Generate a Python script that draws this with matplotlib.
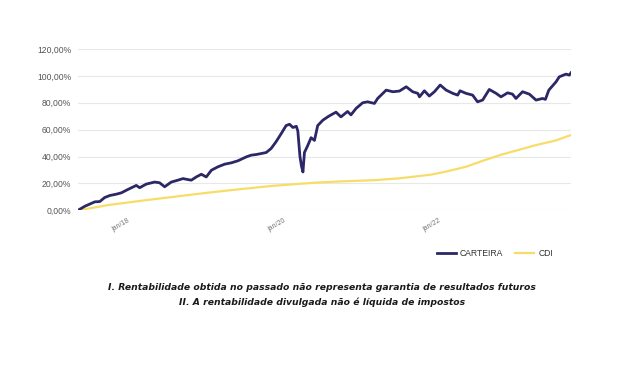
import matplotlib
matplotlib.use("Agg")
import matplotlib.pyplot as plt
import matplotlib.dates as mdates
from matplotlib.ticker import FuncFormatter
import pandas as pd

# Carteira: cumulative return (%)
carteira_dates = [
    "2017-04-29", "2017-05-31", "2017-07-17", "2017-08-09", "2017-09-01", "2017-09-25",
    "2017-10-26", "2017-11-18", "2017-12-19", "2018-01-27", "2018-02-12", "2018-03-15",
    "2018-04-23", "2018-05-16", "2018-06-09", "2018-07-10", "2018-08-10", "2018-09-03",
    "2018-09-18", "2018-10-12", "2018-11-04", "2018-11-28", "2018-12-21", "2019-01-14",
    "2019-02-13", "2019-03-17", "2019-04-17", "2019-05-18", "2019-06-26", "2019-07-19",
    "2019-08-12", "2019-09-04", "2019-09-28", "2019-10-21", "2019-11-13", "2019-12-07",
    "2019-12-30", "2020-01-15", "2020-01-31", "2020-02-16", "2020-02-23", "2020-03-04",
    "2020-03-11", "2020-03-18", "2020-03-25", "2020-04-09", "2020-04-25", "2020-05-11",
    "2020-05-26", "2020-06-19", "2020-07-12", "2020-07-28", "2020-08-20", "2020-09-12",
    "2020-10-13", "2020-10-29", "2020-11-22", "2020-12-23", "2021-01-15", "2021-02-16",
    "2021-03-03", "2021-04-12", "2021-05-13", "2021-06-13", "2021-07-15", "2021-08-14",
    "2021-09-07", "2021-09-15", "2021-10-08", "2021-10-31", "2021-11-24", "2021-12-21",
    "2022-01-18", "2022-02-18", "2022-03-13", "2022-03-24", "2022-04-21", "2022-05-22",
    "2022-06-14", "2022-07-08", "2022-08-08", "2022-09-09", "2022-10-02", "2022-11-02",
    "2022-11-25", "2022-12-11", "2023-01-11", "2023-02-12", "2023-03-15", "2023-04-15",
    "2023-04-28", "2023-05-14", "2023-06-17", "2023-07-02", "2023-08-02", "2023-08-18",
    "2023-08-26",
]
carteira_values = [
    0.0, 3.0, 6.3, 6.5, 9.5, 11.0,
    12.0, 13.0, 15.5, 18.5, 16.8, 19.5,
    21.0, 20.5, 17.5, 21.0, 22.4, 23.6,
    23.1, 22.4, 24.8, 26.8, 24.8, 29.8,
    32.3, 34.3, 35.3, 36.8, 39.7, 41.0,
    41.5, 42.2, 43.0, 46.0, 51.0, 57.0,
    63.0, 64.0, 61.6, 62.5, 59.0, 40.0,
    33.0, 28.5, 43.0, 48.0, 54.0, 52.0,
    63.0, 67.0, 69.5, 71.0, 73.0, 69.5,
    73.5, 71.0, 75.8, 80.0, 80.7, 79.5,
    83.2, 89.4, 88.2, 88.7, 91.9, 88.2,
    87.0, 84.4, 88.9, 85.0, 88.2, 93.2,
    89.4, 87.0, 85.7, 88.9, 87.0, 85.7,
    80.7, 82.0, 89.9, 87.0, 84.4, 87.4,
    86.4, 83.2, 88.2, 86.4, 82.0, 83.2,
    82.5, 89.4, 95.6, 99.3, 101.3, 100.6,
    102.3,
]

# CDI: cumulative return (%)
cdi_dates = [
    "2017-04-29", "2017-07-17", "2017-09-17", "2018-02-20", "2018-07-26", "2018-12-29",
    "2019-06-02", "2019-11-06", "2020-05-11", "2020-09-12", "2021-02-16", "2021-06-13",
    "2021-11-08", "2022-01-18", "2022-04-21", "2022-07-08", "2022-10-02", "2023-03-15",
    "2023-06-17", "2023-08-26",
]
cdi_values = [
    0.0, 2.1, 3.9, 7.1, 10.1, 13.1,
    15.8, 18.3, 20.5, 21.5, 22.4, 23.8,
    26.5, 28.8, 32.4, 36.8, 41.3, 48.5,
    52.0, 56.0,
]

footer_lines = [
    "I. Rentabilidade obtida no passado não representa garantia de resultados futuros",
    "II. A rentabilidade divulgada não é líquida de impostos",
]

plt.rcParams["font.family"] = ["Liberation Sans", "DejaVu Sans"]

fig = plt.figure(figsize=(6.21, 3.67), dpi=100)
ax = fig.add_axes([0.1256, 0.427, 0.7939, 0.4395])

c_dates = pd.to_datetime(carteira_dates)
d_dates = pd.to_datetime(cdi_dates)
ax.plot(d_dates, cdi_values, color="#f8dc6a", linewidth=1.6, label="CDI", zorder=2)
ax.plot(c_dates, carteira_values, color="#2c2766", linewidth=2.0, label="CARTEIRA", zorder=3)

ax.set_xlim(c_dates[0], c_dates[-1])
ax.set_ylim(0, 120)
ax.set_yticks(range(0, 121, 20))
ax.yaxis.set_major_formatter(FuncFormatter(lambda v, _: f"{v:.2f}".replace(".", ",") + "%"))
ax.set_xticks(pd.to_datetime(["2018-01-01", "2020-01-01", "2022-01-01"]))
ax.xaxis.set_major_formatter(mdates.DateFormatter("jan/%y"))

ax.grid(axis="y", color="#e8e8e8", linewidth=0.8)
ax.set_axisbelow(True)
for s in ax.spines.values():
    s.set_visible(False)
ax.tick_params(axis="y", length=0, pad=5, labelsize=6.2, labelcolor="#555555")
ax.tick_params(axis="x", length=0, pad=5, labelsize=5, labelcolor="#777777")
for lbl in ax.get_xticklabels():
    lbl.set_rotation(30)
    lbl.set_ha("right")

handles, labels = ax.get_legend_handles_labels()
fig.legend(handles[::-1], labels[::-1], loc="center", bbox_to_anchor=(0.797, 0.31),
           ncol=2, frameon=False, fontsize=6.2, handlelength=2.2, handletextpad=0.5,
           columnspacing=1.4, labelcolor="#333333")

# footer: bold italic, scaled so the first line spans ~429 px like the original
t1 = fig.text(0.519, 1 - 287 / 367, footer_lines[0], ha="center", va="center",
              fontsize=7, fontweight="bold", fontstyle="italic", color="#1a1a1a",
              family="DejaVu Sans")
t2 = fig.text(0.519, 1 - 302 / 367, footer_lines[1], ha="center", va="center",
              fontsize=7, fontweight="bold", fontstyle="italic", color="#1a1a1a",
              family="DejaVu Sans")
renderer = fig.canvas.get_renderer()
w = t1.get_window_extent(renderer).width
size = 7 * 429 / w
t1.set_fontsize(size)
t2.set_fontsize(size)

fig.savefig("out.png", dpi=100)
